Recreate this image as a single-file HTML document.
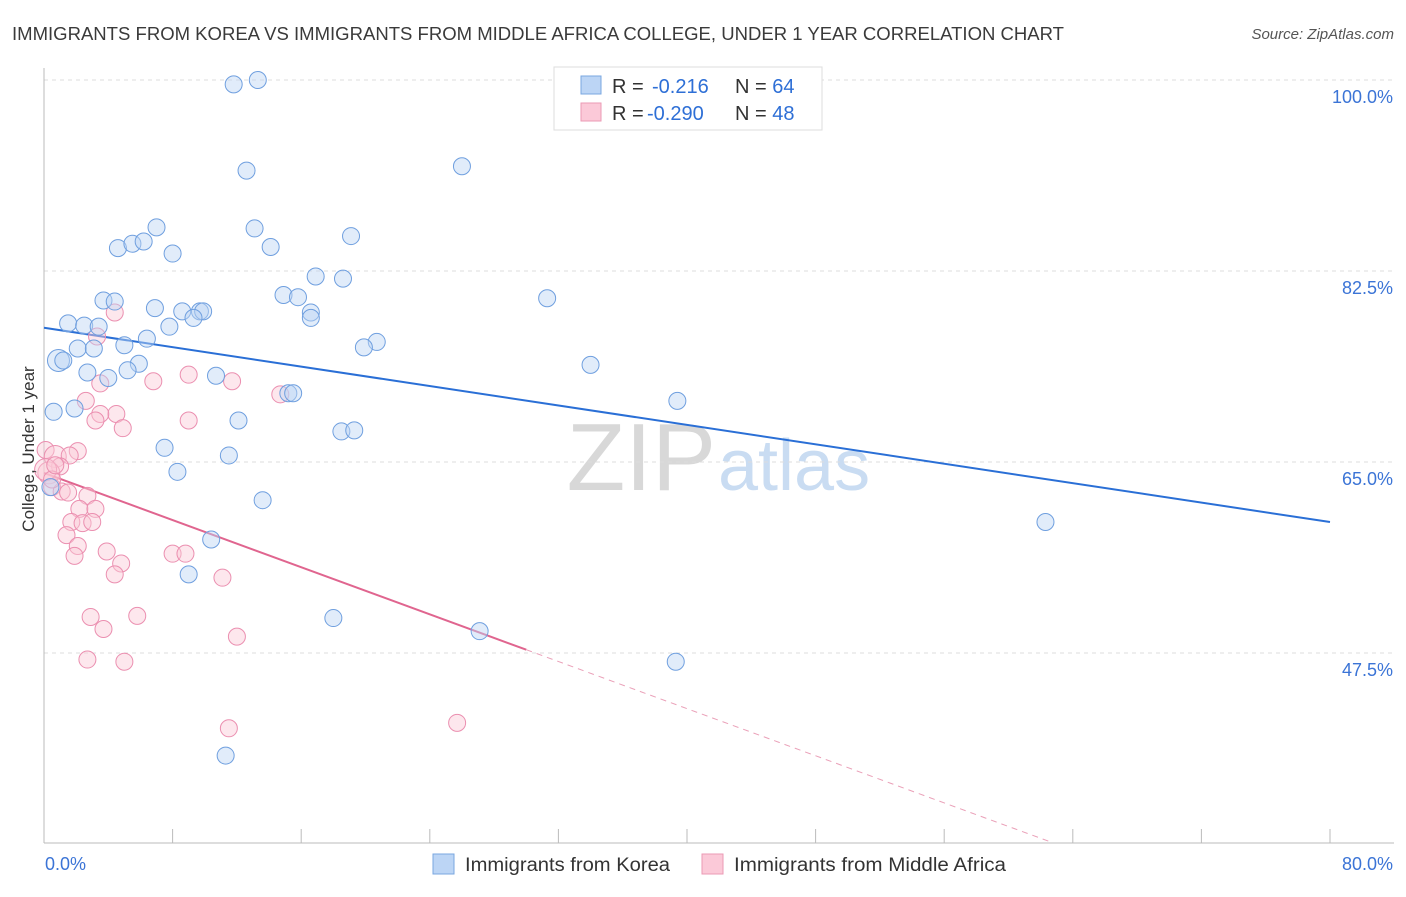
<!DOCTYPE html>
<html><head><meta charset="utf-8"><style>
body{margin:0;background:#fff;font-family:"Liberation Sans",sans-serif;}
svg text{font-family:"Liberation Sans",sans-serif;}
</style></head><body>
<svg width="1406" height="892">
<text x="12" y="40" font-size="18" fill="#3a3a3a" textLength="1052" lengthAdjust="spacingAndGlyphs">IMMIGRANTS FROM KOREA VS IMMIGRANTS FROM MIDDLE AFRICA COLLEGE, UNDER 1 YEAR CORRELATION CHART</text>
<text x="1394" y="39" font-size="15" fill="#555" font-style="italic" text-anchor="end">Source: ZipAtlas.com</text>
<text x="716" y="490" font-size="96" fill="#d8d8d8" text-anchor="end" font-family="Liberation Serif">ZIP</text>
<text x="718" y="490" font-size="72" fill="#c9dcf2">atlas</text>
<g id="grid"></g><g id="axes"></g><g id="lines"></g><g id="pts"></g>
<text x="40" y="455" font-size="17" fill="#333" text-anchor="middle" transform="rotate(-90 34 455)">College, Under 1 year</text>
<g>
<rect x="554" y="67" width="268" height="63" fill="#fff" stroke="#ddd"/>
<rect x="581" y="76" width="20" height="18" fill="#bcd5f5" stroke="#7aa7e0"/>
<rect x="581" y="103" width="20" height="18" fill="#fbc9d8" stroke="#eb9ab4"/>
<text x="612" y="93" font-size="20" fill="#333">R = <tspan fill="#2e6fd6" x="652">-0.216</tspan><tspan fill="#333" x="735">N = </tspan><tspan fill="#2e6fd6">64</tspan></text>
<text x="612" y="120" font-size="20" fill="#333">R = <tspan fill="#2e6fd6" x="647">-0.290</tspan><tspan fill="#333" x="735">N = </tspan><tspan fill="#2e6fd6">48</tspan></text>
</g>
<g>
<rect x="433" y="854" width="21" height="20" fill="#bcd5f5" stroke="#7aa7e0"/>
<text x="465" y="871" font-size="19" fill="#333" textLength="205" lengthAdjust="spacingAndGlyphs">Immigrants from Korea</text>
<rect x="702" y="854" width="21" height="20" fill="#fbc9d8" stroke="#eb9ab4"/>
<text x="734" y="871" font-size="19" fill="#333" textLength="272" lengthAdjust="spacingAndGlyphs">Immigrants from Middle Africa</text>
</g>
</svg>
<script>
const yTicks=[100,82.5,65,47.5];
const yTickLabels=["100.0%","82.5%","65.0%","47.5%"];
const xLabels=["0.0%","80.0%"];
const koreaX=[11.8,13.3,12.6,26.0,7.0,13.1,19.1,4.6,5.5,6.2,8.0,14.1,16.9,18.6,14.9,15.8,31.3,3.7,4.4,6.9,8.6,9.7,9.9,16.6,16.6,9.3,7.8,1.5,2.5,3.4,6.4,5.0,2.1,3.1,20.7,19.9,0.9,1.2,5.9,2.7,5.2,4.0,10.7,34.0,15.2,15.5,39.4,0.6,1.9,12.1,18.5,19.3,7.5,11.5,8.3,13.6,0.4,62.3,10.4,9.0,18.0,27.1,39.3,11.3];
const koreaY=[99.6,100,91.7,92.1,86.5,86.4,85.7,84.6,85.0,85.2,84.1,84.7,82.0,81.8,80.3,80.1,80.0,79.8,79.7,79.1,78.8,78.8,78.8,78.7,78.2,78.2,77.4,77.7,77.5,77.4,76.3,75.7,75.4,75.4,76.0,75.5,74.3,74.3,74.0,73.2,73.4,72.7,72.9,73.9,71.3,71.3,70.6,69.6,69.9,68.8,67.8,67.9,66.3,65.6,64.1,61.5,62.7,59.5,57.9,54.7,50.7,49.5,46.7,38.1];
const africaX=[4.4,3.3,3.5,6.8,9.0,11.7,14.7,2.6,4.5,3.5,3.2,4.9,9.0,0.1,2.1,0.7,1.6,1.0,0.3,0.5,1.1,1.5,2.7,2.2,3.2,1.7,2.4,3.0,1.4,2.1,1.9,3.9,4.8,4.4,8.0,8.8,11.1,2.9,5.8,3.7,12.0,2.7,5.0,11.5,25.7,0.1,0.5,0.7];
const africaY=[78.7,76.5,72.2,72.4,73.0,72.4,71.2,70.6,69.4,69.4,68.8,68.1,68.8,66.1,66.0,65.5,65.6,64.6,64.0,62.7,62.3,62.2,61.9,60.7,60.7,59.5,59.4,59.5,58.3,57.3,56.4,56.8,55.7,54.7,56.6,56.6,54.4,50.8,50.9,49.7,49.0,46.9,46.7,40.6,41.1,64.3,63.4,64.7];
const koreaTrend=[[0,77.3],[80,59.5]];
const africaTrend=[[0,64.0],[30,47.8]];
const africaDash=[[30,47.8],[62.6,30.2]];
const X=v=>44+v*16.075, Y=v=>80+(100-v)*10.914;
const NS="http://www.w3.org/2000/svg";
function mk(p,t,a){const e=document.createElementNS(NS,t);for(const k in a)e.setAttribute(k,a[k]);document.getElementById(p).appendChild(e);return e;}
yTicks.forEach((t,i)=>{
 const g=mk('grid','line',{x1:44,x2:1394,y1:Y(t),y2:Y(t),stroke:'#ddd','stroke-dasharray':'4 4'});
 
 
 const l=mk('grid','text',{x:1393,y:Y(t)+23,'text-anchor':'end','font-size':18,fill:'#3b74d6'});
 l.textContent=yTickLabels[i];
 
 
});
const ax=mk('axes','line',{x1:44,x2:1394,y1:843,y2:843,stroke:'#bbb'});


const ay=mk('axes','line',{x1:44,x2:44,y1:68,y2:843,stroke:'#bbb'});


for(let i=0;i<=10;i++){const t=mk('axes','line',{x1:X(i*8),x2:X(i*8),y1:829,y2:843,stroke:'#bbb'});
 
 }
[[0,'start',45],[80,'end',1393]].forEach((d,i)=>{const t=mk('axes','text',{x:d[2],y:870,'text-anchor':d[1],'font-size':18,fill:'#3b74d6'});t.textContent=xLabels[i];
 
 });
function pts(xs,ys,fill,stroke,name){xs.forEach((x,i)=>{const c=mk('pts','circle',{cx:X(x),cy:Y(ys[i]),r:(x<1&&i%3==0)?11:8.5,fill:fill,'fill-opacity':0.45,stroke:stroke,'stroke-width':1});
 
 });}
pts(africaX,africaY,'#fbc9d8','#eb8fb0','point-middle-africa');
pts(koreaX,koreaY,'#bcd5f5','#6f9fdf','point-korea');
function ln(d,col,w,dash,name){const l=mk('lines','line',{x1:X(d[0][0]),y1:Y(d[0][1]),x2:X(d[1][0]),y2:Y(d[1][1]),stroke:col,'stroke-width':w});if(dash)l.setAttribute('stroke-dasharray',dash);
 
 }
ln(koreaTrend,'#2a6fd6',2,null,'trend-korea');
ln(africaTrend,'#e0658f',2,null,'trend-middle-africa');
ln(africaDash,'#eaa0b8',1,'6 5','trend-middle-africa-extension');
</script>
</body></html>
